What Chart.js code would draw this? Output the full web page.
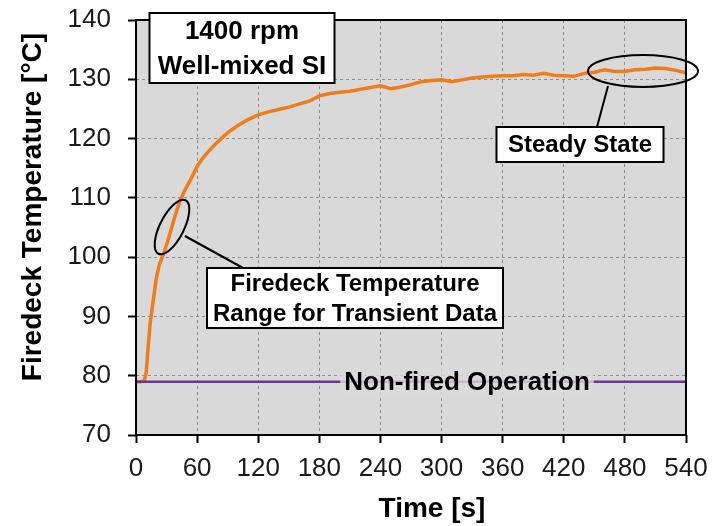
<!DOCTYPE html>
<html>
<head>
<meta charset="utf-8">
<script src="https://cdn.jsdelivr.net/npm/chart.js@4/dist/chart.umd.min.js"></script>
<style>
    html, body { margin: 0; padding: 0; background: #ffffff; }
    #wrap { width: 724px; height: 526px; }
</style>
</head>
<body>
<div id="wrap"><canvas id="chart"></canvas></div>
<script>
// Firedeck temperature warm-up, 1400 rpm well-mixed SI

const timeSec = [0, 4, 8, 10, 12, 14, 17, 20, 23, 27, 31, 35, 39, 43, 48, 54, 60, 66, 72, 80,
    90, 100, 110, 120, 130, 140, 150, 160, 170, 180, 190, 200, 210, 220, 230, 240, 250, 260,
    270, 280, 290, 300, 310, 320, 330, 340, 350, 360, 370, 380, 390, 400, 410, 420, 430, 440,
    450, 460, 470, 480, 490, 500, 510, 520, 530, 540];
const firedeckTemp = [79.0, 79.0, 79.1, 80.5, 85.0, 89.0, 92.8, 96.5, 98.8, 100.5, 102.6, 105.0,
    107.3, 109.4, 111.3, 113.2, 115.3, 116.8, 118.0, 119.4, 121.0, 122.2, 123.2, 124.0, 124.5,
    124.9, 125.3, 125.8, 126.3, 127.2, 127.6, 127.8, 128.0, 128.3, 128.6, 128.9, 128.4, 128.7,
    129.1, 129.6, 129.8, 129.9, 129.6, 129.9, 130.2, 130.4, 130.5, 130.6, 130.6, 130.8, 130.7,
    131.0, 130.7, 130.6, 130.5, 131.0, 131.2, 131.6, 131.3, 131.3, 131.6, 131.7, 131.9, 131.8,
    131.5, 131.1];

const nonFiredTime = [0, 540];
const nonFiredTemp = [79, 79];

const xTicks = [0, 60, 120, 180, 240, 300, 360, 420, 480, 540];
const yTicks = [70, 80, 90, 100, 110, 120, 130, 140];

const FONT = "'Liberation Sans', Arial, sans-serif";

function toPoints(xs, ys) {
    return xs.map((x, i) => ({ x: x, y: ys[i] }));
}

function textBox(ctx, lines, cx, top, w, h, size) {
    ctx.save();
    ctx.fillStyle = "#ffffff";
    ctx.fillRect(cx - w / 2, top, w, h);
    ctx.strokeStyle = "#000000";
    ctx.lineWidth = 2;
    ctx.strokeRect(cx - w / 2, top, w, h);
    ctx.fillStyle = "#000000";
    ctx.font = "bold " + size + "px " + FONT;
    ctx.textAlign = "center";
    ctx.textBaseline = "middle";
    const lh = h / lines.length;
    lines.forEach((t, i) => ctx.fillText(t, cx, top + lh * (i + 0.5) + 1));
    ctx.restore();
}

function ellipse(ctx, cx, cy, rx, ry, rot) {
    ctx.save();
    ctx.strokeStyle = "#000000";
    ctx.lineWidth = 2;
    ctx.beginPath();
    ctx.ellipse(cx, cy, rx, ry, rot, 0, Math.PI * 2);
    ctx.stroke();
    ctx.restore();
}

function leader(ctx, x1, y1, x2, y2) {
    ctx.save();
    ctx.strokeStyle = "#000000";
    ctx.lineWidth = 2;
    ctx.beginPath();
    ctx.moveTo(x1, y1);
    ctx.lineTo(x2, y2);
    ctx.stroke();
    ctx.restore();
}

const plotBackground = {
    id: "plotBackground",
    beforeDraw(chart) {
        const { ctx, chartArea: a } = chart;
        ctx.save();
        ctx.fillStyle = "#d9d9d9";
        ctx.fillRect(a.left, a.top, a.right - a.left, a.bottom - a.top);
        ctx.restore();
    }
};

const annotations = {
    id: "annotations",
    afterDatasetsDraw(chart) {
        const { ctx, chartArea: a, scales } = chart;
        const y = scales.y;

        // label sitting on the non-fired line
        const ly = y.getPixelForValue(79);
        ctx.save();
        ctx.font = "bold 26px " + FONT;
        ctx.fillStyle = "rgba(217,217,217,0.8)";
        const lx = 467;
        const tw = ctx.measureText("Non-fired Operation").width;
        ctx.fillRect(lx - tw / 2 - 4, ly - 14, tw + 8, 28);
        ctx.fillStyle = "#000000";
        ctx.textAlign = "center";
        ctx.textBaseline = "middle";
        ctx.fillText("Non-fired Operation", lx, ly + 1);
        ctx.restore();

        // plot border
        ctx.save();
        ctx.strokeStyle = "#000000";
        ctx.lineWidth = 2;
        ctx.strokeRect(a.left, a.top, a.right - a.left, a.bottom - a.top);
        ctx.restore();

        // transient range callout
        ellipse(ctx, 172, 227, 30, 12, -1.1);
        leader(ctx, 185, 236, 243, 268);
        textBox(ctx, ["Firedeck Temperature", "Range for Transient Data"], 355, 268, 296, 60, 24);

        // steady state callout
        ellipse(ctx, 643, 71, 55, 16, 0);
        leader(ctx, 608, 86, 597, 127);
        textBox(ctx, ["Steady State"], 580, 127, 167, 35, 24);

        // condition box
        textBox(ctx, ["1400 rpm", "Well-mixed SI"], 242, 13, 185, 70, 26);

        // axis titles
        ctx.save();
        ctx.fillStyle = "#000000";
        ctx.font = "bold 28px " + FONT;
        ctx.textAlign = "center";
        ctx.textBaseline = "middle";
        ctx.fillText("Time [s]", 432, 509);
        ctx.translate(33, 207);
        ctx.rotate(-Math.PI / 2);
        ctx.fillText("Firedeck Temperature [°C]", 0, 0);
        ctx.restore();
    }
};

const gridOpts = {
    color: "#8c8c8c",
    lineWidth: 1,
    tickColor: "#000000",
    tickBorderDash: [],
    tickLength: 8,
    tickWidth: 2
};

new Chart(document.getElementById("chart"), {
    type: "scatter",
    data: {
        datasets: [
            {
                label: "Non-fired",
                data: toPoints(nonFiredTime, nonFiredTemp),
                showLine: true,
                borderColor: "#7030a0",
                borderWidth: 2.5,
                pointRadius: 0
            },
            {
                label: "Firedeck",
                data: toPoints(timeSec, firedeckTemp),
                showLine: true,
                borderColor: "#ef7d1a",
                borderWidth: 3.5,
                pointRadius: 0,
                tension: 0
            }
        ]
    },
    options: {
        responsive: true,
        maintainAspectRatio: false,
        animation: false,
        events: [],
        layout: { padding: { top: 20, right: 38, left: 0, bottom: 0 } },
        plugins: {
            legend: { display: false },
            tooltip: { enabled: false }
        },
        scales: {
            x: {
                type: "linear",
                min: 0,
                max: 540,
                afterBuildTicks: (s) => { s.ticks = xTicks.map(v => ({ value: v })); },
                afterFit: (s) => { s.height = 91; s.paddingLeft = 0; s.paddingRight = 0; },
                grid: gridOpts,
                border: { display: false, dash: [3, 3] },
                ticks: {
                    color: "#1a1a1a",
                    padding: 10,
                    maxRotation: 0,
                    font: { family: FONT, size: 26 }
                }
            },
            y: {
                min: 70,
                max: 140,
                afterBuildTicks: (s) => { s.ticks = yTicks.map(v => ({ value: v })); },
                afterFit: (s) => { s.width = 136; s.paddingTop = 0; s.paddingBottom = 0; },
                grid: gridOpts,
                border: { display: false, dash: [3, 3] },
                ticks: {
                    color: "#1a1a1a",
                    padding: 17,
                    font: { family: FONT, size: 26 }
                }
            }
        }
    },
    plugins: [plotBackground, annotations]
});
</script>
</body>
</html>
